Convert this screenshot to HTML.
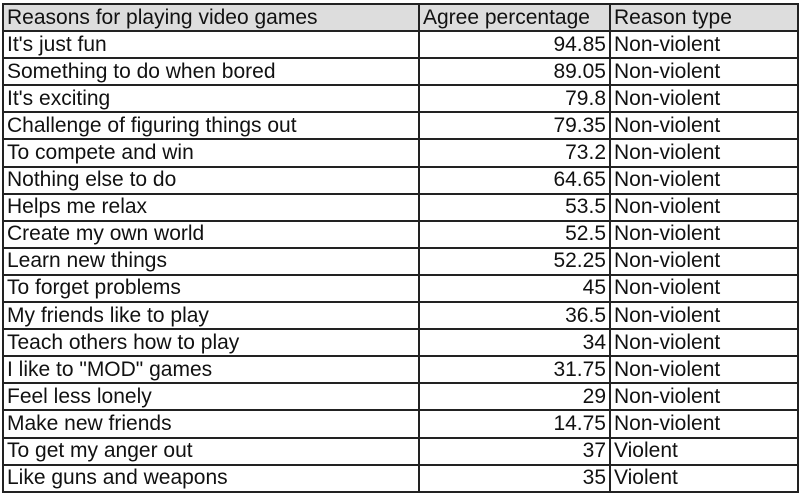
<!DOCTYPE html>
<html><head><meta charset="utf-8"><style>
body{margin:0;width:801px;height:493px;background:#fff;overflow:hidden;font-family:"Liberation Sans",Arial,sans-serif;}
table{position:absolute;left:2px;top:3px;border-collapse:collapse;width:797px;table-layout:fixed;}
tr{height:27.1px;}
td,th{border:2px solid #222;padding:0 3px;font-size:21px;font-weight:normal;color:#111;line-height:24px;white-space:nowrap;overflow:hidden;}
th{background:#ddd;text-align:left;}
td.n{text-align:right;}
</style></head><body>
<table>
<colgroup><col style="width:416px"><col style="width:191px"><col></colgroup>
<tr><th>Reasons for playing video games</th><th>Agree percentage</th><th>Reason type</th></tr>
<tr><td>It's just fun</td><td class="n">94.85</td><td>Non-violent</td></tr>
<tr><td>Something to do when bored</td><td class="n">89.05</td><td>Non-violent</td></tr>
<tr><td>It's exciting</td><td class="n">79.8</td><td>Non-violent</td></tr>
<tr><td>Challenge of figuring things out</td><td class="n">79.35</td><td>Non-violent</td></tr>
<tr><td>To compete and win</td><td class="n">73.2</td><td>Non-violent</td></tr>
<tr><td>Nothing else to do</td><td class="n">64.65</td><td>Non-violent</td></tr>
<tr><td>Helps me relax</td><td class="n">53.5</td><td>Non-violent</td></tr>
<tr><td>Create my own world</td><td class="n">52.5</td><td>Non-violent</td></tr>
<tr><td>Learn new things</td><td class="n">52.25</td><td>Non-violent</td></tr>
<tr><td>To forget problems</td><td class="n">45</td><td>Non-violent</td></tr>
<tr><td>My friends like to play</td><td class="n">36.5</td><td>Non-violent</td></tr>
<tr><td>Teach others how to play</td><td class="n">34</td><td>Non-violent</td></tr>
<tr><td>I like to "MOD" games</td><td class="n">31.75</td><td>Non-violent</td></tr>
<tr><td>Feel less lonely</td><td class="n">29</td><td>Non-violent</td></tr>
<tr><td>Make new friends</td><td class="n">14.75</td><td>Non-violent</td></tr>
<tr><td>To get my anger out</td><td class="n">37</td><td>Violent</td></tr>
<tr><td>Like guns and weapons</td><td class="n">35</td><td>Violent</td></tr>
</table>
</body></html>
